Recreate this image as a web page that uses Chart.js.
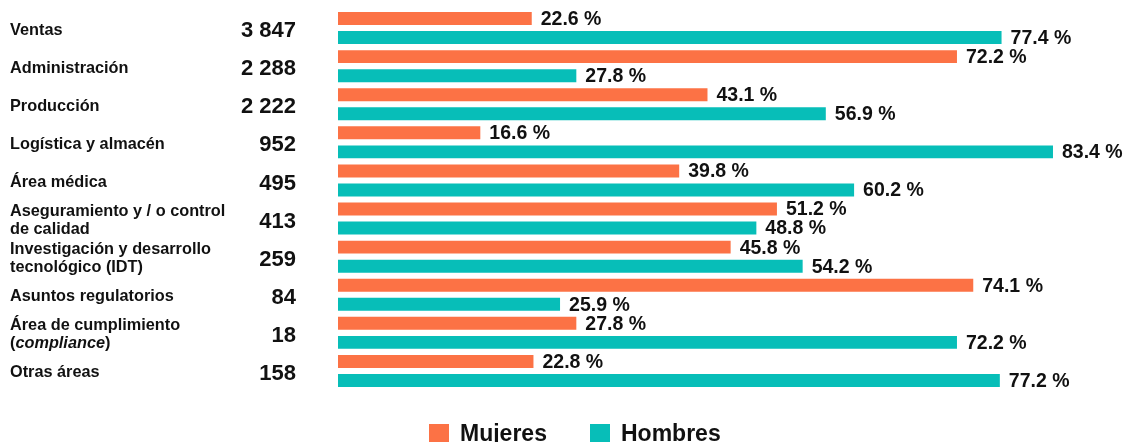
<!DOCTYPE html>
<html>
<head>
<meta charset="utf-8">
<script src="https://cdn.jsdelivr.net/npm/chart.js@4.4.0/dist/chart.umd.min.js"></script>
<style>
  html, body { margin: 0; padding: 0; background: #fff; }
</style>
</head>
<body>
<canvas id="barChart" width="1128" height="442"></canvas>
<script>
// categories (one entry per line of the label)
const areas = [
  ["Ventas"],
  ["Administración"],
  ["Producción"],
  ["Logística y almacén"],
  ["Área médica"],
  ["Aseguramiento y / o control", "de calidad"],
  ["Investigación y desarrollo", "tecnológico (IDT)"],
  ["Asuntos regulatorios"],
  ["Área de cumplimiento", "(compliance)"],
  ["Otras áreas"]
];
const totals = ["3 847", "2 288", "2 222", "952", "495", "413", "259", "84", "18", "158"];
const mujeres = [22.6, 72.2, 43.1, 16.6, 39.8, 51.2, 45.8, 74.1, 27.8, 22.8];
const hombres = [77.4, 27.8, 56.9, 83.4, 60.2, 48.8, 54.2, 25.9, 72.2, 77.2];
const seriesNames = ["Mujeres", "Hombres"];

const orange = '#FC7245';
const teal = '#07BEB8';
const FONT = 'Liberation Sans, Arial, sans-serif';
const NAME_FONT = 'bold 16.3px ' + FONT;

// left columns: area names and totals
const sideLabels = {
  id: 'sideLabels',
  afterDraw(chart) {
    const ctx = chart.ctx;
    const y = chart.scales.y;
    ctx.save();
    ctx.fillStyle = '#111';
    ctx.textBaseline = 'middle';
    areas.forEach((lines, i) => {
      const cy = y.getPixelForValue(i);
      const lh = 18;
      const y0 = cy - (lines.length - 1) * lh / 2 + 2;
      lines.forEach((ln, k) => {
        const ly = y0 + k * lh;
        ctx.textAlign = 'left';
        if (ln === '(compliance)') {
          ctx.font = NAME_FONT;
          ctx.fillText('(', 10, ly);
          let x = 10 + ctx.measureText('(').width;
          ctx.font = 'italic ' + NAME_FONT;
          ctx.fillText('compliance', x, ly);
          x += ctx.measureText('compliance').width;
          ctx.font = NAME_FONT;
          ctx.fillText(')', x, ly);
        } else {
          ctx.font = NAME_FONT;
          ctx.fillText(ln, 10, ly);
        }
      });
      ctx.font = 'bold 22px ' + FONT;
      ctx.textAlign = 'right';
      ctx.fillText(totals[i], 296, cy + 3);
    });
    ctx.restore();
  }
};

// percentage labels at the end of each bar
const valueLabels = {
  id: 'valueLabels',
  afterDatasetsDraw(chart) {
    const ctx = chart.ctx;
    ctx.save();
    ctx.font = 'bold 19.5px ' + FONT;
    ctx.fillStyle = '#111';
    ctx.textAlign = 'left';
    ctx.textBaseline = 'middle';
    chart.data.datasets.forEach((ds, di) => {
      chart.getDatasetMeta(di).data.forEach((bar, i) => {
        ctx.fillText(ds.data[i].toFixed(1) + ' %', bar.x + 9, bar.y + 1);
      });
    });
    ctx.restore();
  }
};

// legend at the bottom
const bottomLegend = {
  id: 'bottomLegend',
  afterDraw(chart) {
    const ctx = chart.ctx;
    const items = [[429, orange, seriesNames[0]], [590, teal, seriesNames[1]]];
    ctx.save();
    ctx.font = 'bold 23px ' + FONT;
    ctx.textBaseline = 'alphabetic';
    ctx.textAlign = 'left';
    items.forEach(([x, c, t]) => {
      ctx.fillStyle = c;
      ctx.fillRect(x, 424, 20, 20);
      ctx.fillStyle = '#111';
      ctx.fillText(t, x + 31, 441);
    });
    ctx.restore();
  }
};

const ctx = document.getElementById('barChart').getContext('2d');
new Chart(ctx, {
  type: 'bar',
  data: {
    labels: areas.map(a => a.join(' ')),
    datasets: [
      { label: seriesNames[0], data: mujeres, backgroundColor: orange },
      { label: seriesNames[1], data: hombres, backgroundColor: teal }
    ]
  },
  options: {
    indexAxis: 'y',
    responsive: false,
    animation: false,
    layout: { padding: { left: 338, right: 0, top: 9, bottom: 52 } },
    datasets: { bar: { categoryPercentage: 1, barPercentage: 0.68 } },
    scales: {
      x: { display: false, min: 0, max: 92.15 },
      y: { display: false }
    },
    plugins: {
      legend: { display: false },
      tooltip: { enabled: false }
    }
  },
  plugins: [sideLabels, valueLabels, bottomLegend]
});
</script>
</body>
</html>
